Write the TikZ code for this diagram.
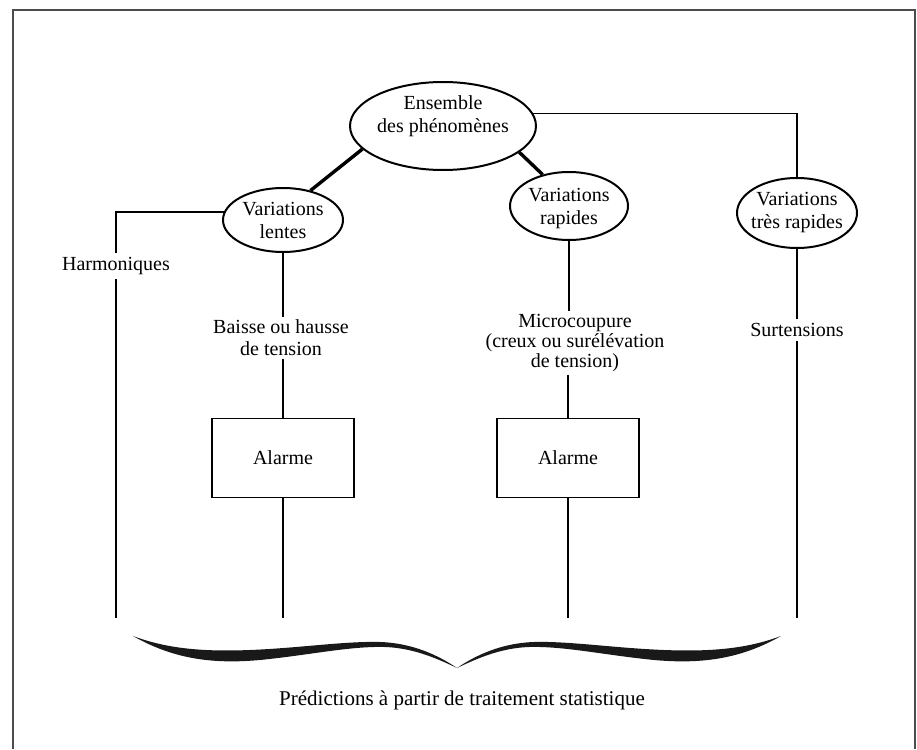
\documentclass[tikz,border=0pt]{standalone}
\usepackage{fontspec}
\setmainfont{Liberation Serif}
\usetikzlibrary{shapes.geometric}
\begin{document}
\begin{tikzpicture}[x=1pt,y=-1pt,
  every node/.style={font=\fontsize{20}{23}\selectfont, align=center, inner sep=4pt},
  ln/.style={line width=1.6pt},
  thk/.style={line width=3.4pt},
  ell/.style={ellipse, draw, line width=2pt, inner sep=0pt},
  box/.style={rectangle, draw, line width=1.8pt, minimum width=142pt, minimum height=79pt},
  lbl/.style={align=center, inner sep=0pt},
  bracefill/.style={fill=black!90}]
\useasboundingbox (0,0) rectangle (917,749);
\draw[line width=1.8pt, draw=black!70] (13,749) -- (13,10) -- (915,10) -- (915,749);

% ellipses
\node[ell, minimum width=186pt, minimum height=88pt,
  label={[lbl,yshift=10pt]center:{Ensemble\\des phénomènes}}] (ens) at (443,126) {};
\node[ell, minimum width=120pt, minimum height=64pt,
  label={[lbl]center:{Variations\\lentes}}] (vl) at (283,220) {};
\node[ell, minimum width=118pt, minimum height=68pt,
  label={[lbl,yshift=-3pt]center:{Variations\\rapides}}] (vr) at (569,206) {};
\node[ell, minimum width=120pt, minimum height=70pt,
  label={[lbl]center:{Variations\\très rapides}}] (vtr) at (797,213) {};

% texts
\node (harm) at (116,266) {Harmoniques};
\node[font=\fontsize{20}{22}\selectfont, inner sep=3pt] (bai) at (281,338) {Baisse ou hausse\\de tension};
\node[font=\fontsize{20}{20}\selectfont, inner sep=3pt] (mic) at (575,343) {Microcoupure\\(creux ou surélévation\\de tension)};
\node (sur) at (797,330) {Surtensions};
\node[box] (al1) at (283,458) {Alarme};
\node[box] (al2) at (568,458) {Alarme};
\node[font=\fontsize{21}{25}\selectfont] (pred) at (462,700) {Prédictions à partir de traitement statistique};

% free ends
\coordinate (e1) at (harm.south |- 0,618);
\coordinate (e2) at (al1.south |- 0,618);
\coordinate (e3) at (al2.south |- 0,618);
\coordinate (e4) at (sur.south |- 0,618);

% connectors
\draw[thk] (ens.196) -- (vl.47);
\draw[thk] (ens.341) -- (vr.130);
\draw[ln] (ens.8) -| (vtr.north);
\draw[ln] (vl.172) -| (harm.north);
\draw[ln] (harm.south) -- (e1);
\draw[ln] (vl.south) -- (vl.south |- bai.north);
\draw[ln] (al1.north |- bai.south) -- (al1.north);
\draw[ln] (al1.south) -- (e2);
\draw[ln] (vr.south) -- (vr.south |- mic.north);
\draw[ln] (al2.north |- mic.south) -- (al2.north);
\draw[ln] (al2.south) -- (e3);
\draw[ln] (vtr.south) -- (sur.north);
\draw[ln] (sur.south) -- (e4);

% brace
\fill[bracefill] (133,636) .. controls (175,660) and (215,664) .. (260,660)
  .. controls (310,655) and (350,646) .. (385,647)
  .. controls (415,648) and (440,660) .. (457,668)
  .. controls (438,655) and (412,643) .. (380,642)
  .. controls (345,641) and (300,648) .. (250,650)
  .. controls (200,652) and (165,648) .. (133,636) -- cycle;
\begin{scope}[shift={(914,0)}, xscale=-1]
\fill[bracefill] (133,636) .. controls (175,660) and (215,664) .. (260,660)
  .. controls (310,655) and (350,646) .. (385,647)
  .. controls (415,648) and (440,660) .. (457,668)
  .. controls (438,655) and (412,643) .. (380,642)
  .. controls (345,641) and (300,648) .. (250,650)
  .. controls (200,652) and (165,648) .. (133,636) -- cycle;
\end{scope}
\end{tikzpicture}
\end{document}
